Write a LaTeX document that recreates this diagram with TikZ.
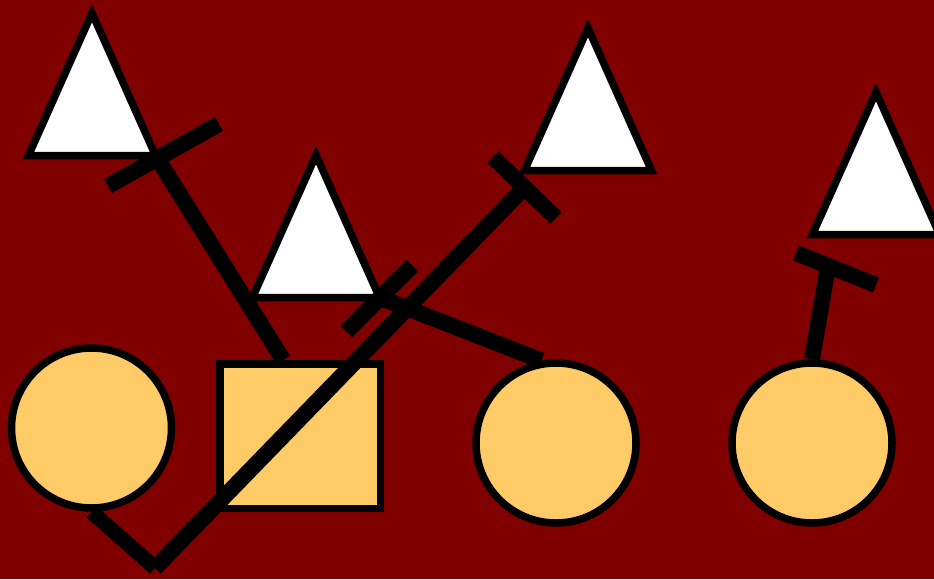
\documentclass[tikz,border=0pt]{standalone}
\usetikzlibrary{calc}
\definecolor{bgred}{RGB}{128,0,0}
\definecolor{cellfill}{RGB}{254,203,102}

\begin{document}
\begin{tikzpicture}[x=1pt,y=-1pt,
  tri/.style={draw=black,fill=white,line width=7.5pt},
  cell/.style={draw=black,fill=cellfill,line width=7.5pt,circle,minimum size=160pt,inner sep=0pt},
  block/.style={draw=black,fill=cellfill,line width=7.5pt,minimum width=160.5pt,minimum height=144.5pt,inner sep=0pt},
  link/.style={line width=16pt},
  bar/.style={line width=16pt}]
\useasboundingbox (0,0) rectangle (934,579);
\clip (0,0) rectangle (934,579);
\fill[bgred] (0,0) rectangle (934,579);
% triangles: apex, right and left base corners
\foreach \name/\xa/\ya in {t1/92/13, t2/316/155, t3/588/28, t4/876/92}
  {\draw[tri] (\xa,\ya) coordinate (\name-top) -- ++(63.5,142.5) coordinate (\name-r) -- ++(-127,0) coordinate (\name-l) -- cycle;}
% cells
\node[cell] (c1) at (91.5,428) {};
\node[block] (sq) at (300,436) {};
\node[cell] (c2) at (556,443) {};
\node[cell] (c3) at (812,443) {};
% free ends
\coordinate (vtip) at (155,568);
\coordinate (t3-end) at (523,189);
\coordinate (t4-end) at (828,266);
% connectors
\draw[link] (t1-r) -- ($(sq.north west)!0.4!(sq.north east)$);
\draw[link,line width=15pt] (c1.south) -- (vtip);
\draw[link] (vtip) -- (t3-end);
\draw[link] (c2.100) -- (t2-r);
\draw[link] (c3.north) -- (t4-end);
% bars at the ends
\draw[bar] ($(t1-r)+(-47.5,30.5)$) -- ($(t1-r)+(63.5,-31.5)$);
\draw[bar] ($(t3-end)+(-30,-32)$) -- ($(t3-end)+(33,29)$);
\draw[bar] ($(t2-r)+(-33,34)$) -- ($(t2-r)+(33,-32)$);
\draw[bar] ($(t4-end)+(-32,-13)$) -- ($(t4-end)+(48,19)$);
\end{tikzpicture}
\end{document}
